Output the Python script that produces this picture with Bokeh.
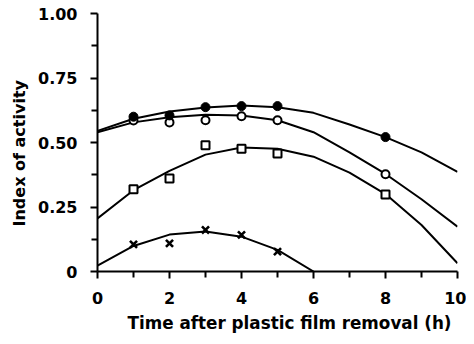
from bokeh.plotting import figure
from bokeh.models import FixedTicker, Range1d, Title
from bokeh.embed import file_html
from bokeh.resources import INLINE

# Observed data points
hours = [1, 2, 3, 4, 5, 8]
filled_circles = [0.600, 0.605, 0.637, 0.641, 0.641, 0.521]
open_circles = [0.585, 0.578, 0.586, 0.602, 0.586, 0.377]
open_squares = [0.319, 0.360, 0.489, 0.476, 0.457, 0.298]
cross_hours = [1, 2, 3, 4, 5]
crosses = [0.105, 0.109, 0.161, 0.142, 0.077]

# Fitted curves at each hour
curve_hours = [0, 1, 2, 3, 4, 5, 6, 7, 8, 9, 10]
filled_curve = [0.545, 0.592, 0.620, 0.636, 0.643, 0.637, 0.615, 0.570, 0.521, 0.462, 0.386]
open_curve = [0.540, 0.578, 0.598, 0.608, 0.605, 0.586, 0.540, 0.462, 0.378, 0.280, 0.174]
square_curve = [0.206, 0.315, 0.390, 0.453, 0.481, 0.476, 0.445, 0.383, 0.300, 0.180, 0.032]
cross_curve_hours = [0, 1, 2, 3, 4, 5, 6]
cross_curve = [0.023, 0.099, 0.143, 0.155, 0.135, 0.084, 0.0]

x_major = [0, 2, 4, 6, 8, 10]
x_minor = [1, 3, 5, 7, 9]
y_major = [0, 0.25, 0.5, 0.75, 1.0]
y_minor = [0.125, 0.375, 0.625, 0.875]
y_labels = {0: "0", 0.25: "0.25", 0.5: "0.50", 0.75: "0.75", 1.0: "1.00"}
x_title = "Time after plastic film removal (h)"
y_title = "Index of activity"

FONT = "DejaVu Sans"

p = figure(width=466, height=336, output_backend="svg", toolbar_location=None,
           x_range=Range1d(0, 10), y_range=Range1d(0, 1.0),
           min_border_left=94, min_border_top=13, min_border_bottom=64, min_border_right=9)
p.outline_line_color = None
p.xgrid.visible = False
p.ygrid.visible = False
p.background_fill_color = "white"

lw = 2
p.line(curve_hours, filled_curve, line_color="black", line_width=lw)
p.line(curve_hours, open_curve, line_color="black", line_width=lw)
p.line(curve_hours, square_curve, line_color="black", line_width=lw)
p.line(cross_curve_hours, cross_curve, line_color="black", line_width=lw)

p.scatter(hours, open_circles, marker="circle", size=8, fill_color="white", line_color="black", line_width=2)
p.scatter(hours, filled_circles, marker="circle", size=9, fill_color="black", line_color="black")
p.scatter(hours, open_squares, marker="square", size=8, fill_color="white", line_color="black", line_width=2)
p.scatter(cross_hours, crosses, marker="x", size=10, line_color="black", line_width=2.6)

for ax in (p.xaxis[0], p.yaxis[0]):
    ax.axis_line_width = 2
    ax.axis_line_color = "black"
    ax.major_tick_line_width = 2
    ax.minor_tick_line_width = 2
    ax.major_tick_in = 0
    ax.minor_tick_in = 0
    ax.major_tick_out = 7
    ax.minor_tick_out = 6
    ax.major_label_text_font = FONT
    ax.major_label_text_font_style = "bold"
    ax.major_label_text_font_size = "16px"
    ax.major_label_text_color = "black"

p.xaxis.ticker = FixedTicker(ticks=x_major, minor_ticks=x_minor)
p.yaxis.ticker = FixedTicker(ticks=y_major, minor_ticks=y_minor)
p.yaxis.major_label_overrides = y_labels
p.xaxis.major_label_standoff = 13
p.yaxis.major_label_standoff = 13

# Axis titles as side titles (shifted along the axis as in the reference)
p.add_layout(Title(text=x_title, align="left", offset=30, standoff=8,
                   text_font=FONT, text_font_style="bold", text_font_size="16.8px",
                   text_color="black"), "below")
p.add_layout(Title(text=y_title, align="left", offset=45, standoff=14,
                   text_font=FONT, text_font_style="bold", text_font_size="16px",
                   text_color="black"), "left")

open("out.html", "w").write(file_html(p, INLINE))
